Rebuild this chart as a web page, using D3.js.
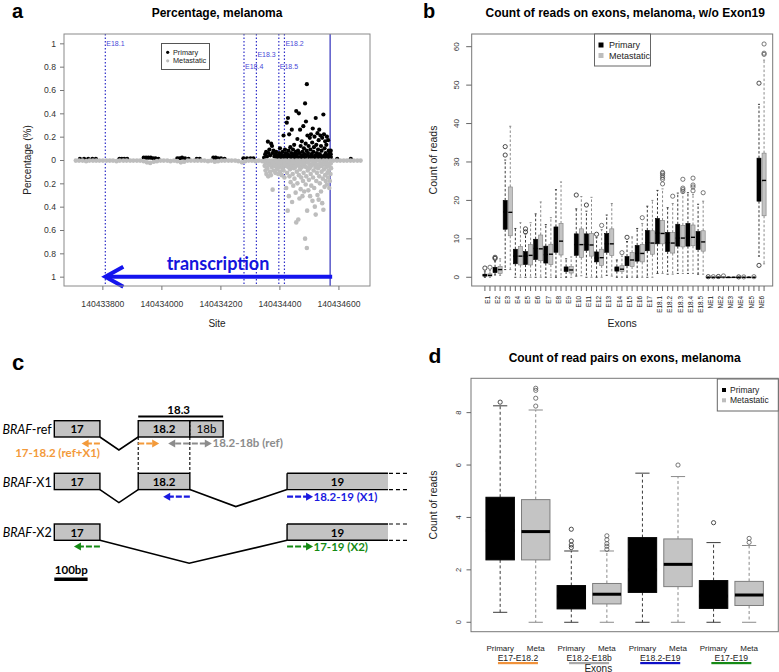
<!DOCTYPE html>
<html><head><meta charset="utf-8">
<script src="https://cdn.jsdelivr.net/npm/d3@7/dist/d3.min.js"></script>
<style>
body{margin:0;background:#fff}
svg{display:block}
</style>
</head><body>
<svg id="fig" width="779" height="672"></svg>
<script>
// ================= DATA =================
// Panel a: percentage by genomic site
const siteTicks = [140433800, 140434000, 140434200, 140434400, 140434600];
const pctTicks = [1, 0.8, 0.6, 0.4, 0.2, 0, -0.2, -0.4, -0.6, -0.8, -1];
const pctTickLabels = ["1","0.8","0.6","0.4","0.2","0","0.2","0.4","0.6","0.8","1"];
const exonMarks = [["E18.1",140433810],["E18.4",140434280],["E18.3",140434322],["E18.5",140434398],["E18.2",140434417]];
const transcriptionStart = 140434572;
const transcriptionEnd = 140433810;

const primaryPoints = [
[140433724,0.01],[140433738,0.01],[140433752,0.01],[140433766,0.01],[140433778,0.01],
[140433858,0.01],[140433866,0.01],[140433874,0.01],[140433884,0.01],
[140433940,0.02],[140433948,0.02],[140433956,0.02],[140433964,0.02],[140433972,0.015],[140433980,0.015],[140433990,0.01],
[140434054,0.015],[140434062,0.015],[140434070,0.02],[140434080,0.015],[140434092,0.01],
[140434120,0.01],[140434130,0.01],
[140434176,0.02],[140434184,0.02],[140434192,0.015],[140434202,0.015],[140434214,0.01],
[140434278,0.015],[140434290,0.015],[140434302,0.015],[140434312,0.015],
[140434596,0.01],[140434642,0.01],
[140434348,0.02],[140434352,0.05],[140434355,0.07],[140434358,0.03],[140434361,0.157],[140434363,0.06],[140434366,0.09],[140434369,0.04],
[140434372,0.14],[140434375,0.12],[140434377,0.06],[140434380,0.08],[140434383,0.03],[140434386,0.05],[140434389,0.07],[140434392,0.02],
[140434395,0.04],[140434399,0.06],[140434402,0.10],[140434405,0.05],[140434408,0.03],[140434411,0.07],[140434414,0.21],[140434416,0.04],
[140434419,0.09],[140434422,0.06],[140434425,0.32],[140434427,0.05],[140434429,0.36],[140434431,0.08],[140434433,0.22],[140434435,0.03],
[140434437,0.11],[140434440,0.06],[140434442,0.26],[140434444,0.04],[140434446,0.09],[140434448,0.05],[140434450,0.13],[140434452,0.03],
[140434455,0.07],[140434457,0.42],[140434459,0.05],[140434461,0.18],[140434463,0.08],[140434466,0.40],[140434468,0.06],[140434470,0.26],
[140434472,0.12],[140434474,0.04],[140434476,0.16],[140434478,0.07],[140434481,0.29],[140434483,0.10],[140434485,0.05],[140434487,0.485],
[140434489,0.14],[140434490,0.33],[140434492,0.08],[140434493,0.65],[140434495,0.21],[140434497,0.06],[140434499,0.12],[140434501,0.03],
[140434503,0.19],[140434505,0.09],[140434507,0.22],[140434509,0.05],[140434511,0.15],[140434513,0.27],[140434515,0.07],[140434517,0.11],
[140434519,0.20],[140434521,0.04],[140434523,0.36],[140434525,0.13],[140434527,0.06],[140434529,0.23],[140434531,0.09],[140434533,0.17],
[140434535,0.26],[140434537,0.05],[140434539,0.21],[140434541,0.12],[140434543,0.08],[140434545,0.19],[140434547,0.03],[140434549,0.39],
[140434551,0.22],[140434553,0.10],[140434555,0.16],[140434557,0.06],[140434559,0.13],[140434561,0.20],[140434563,0.04],[140434565,0.17],
[140434567,0.08],[140434569,0.05],[140434571,0.07],[140434573,0.03],
[140434404,0.02],[140434410,0.01],[140434418,0.03],[140434424,0.02],[140434432,0.04],[140434439,0.02],[140434447,0.03],[140434453,0.01],
[140434460,0.03],[140434467,0.02],[140434475,0.01],[140434482,0.03],[140434488,0.02],[140434496,0.04],[140434502,0.01],[140434508,0.03],
[140434516,0.02],[140434522,0.01],[140434528,0.04],[140434534,0.02],[140434540,0.03],[140434546,0.01],[140434552,0.04],[140434558,0.02],
[140434564,0.03],[140434570,0.01],[140434574,0.05],[140434574,0.08],[140434574,0.02]
];

// metastatic: magnitudes (plotted downward)
const metastaticPoints = [
[140433710,0.005],[140433721,0.005],[140433733,0.005],[140433745,0.01],[140433756,0.005],[140433768,0.005],[140433779,0.005],[140433790,0.005],
[140433802,0.005],[140433814,0.005],[140433825,0.005],[140433836,0.005],[140433848,0.01],[140433859,0.005],[140433871,0.005],[140433882,0.005],
[140433894,0.005],[140433905,0.005],[140433917,0.005],[140433928,0.005],[140433940,0.01],[140433951,0.02],[140433962,0.025],[140433974,0.015],
[140433985,0.01],[140433997,0.005],[140434008,0.005],[140434020,0.005],[140434031,0.01],[140434043,0.005],[140434054,0.01],[140434066,0.02],
[140434077,0.015],[140434089,0.005],[140434100,0.005],[140434112,0.005],[140434123,0.005],[140434135,0.005],[140434146,0.005],[140434158,0.01],
[140434169,0.005],[140434181,0.015],[140434192,0.01],[140434204,0.005],[140434215,0.005],[140434227,0.005],[140434238,0.005],[140434250,0.005],
[140434261,0.01],[140434273,0.02],[140434284,0.01],[140434296,0.005],[140434307,0.005],[140434319,0.01],[140434330,0.005],[140434342,0.01],
[140434353,0.005],[140434365,0.005],[140434376,0.005],[140434388,0.005],[140434399,0.005],[140434411,0.005],[140434422,0.005],[140434434,0.005],
[140434445,0.005],[140434457,0.005],[140434468,0.005],[140434480,0.005],[140434491,0.005],[140434503,0.005],[140434514,0.005],[140434526,0.005],
[140434537,0.005],[140434549,0.005],[140434560,0.005],[140434572,0.005],[140434583,0.005],[140434595,0.005],[140434606,0.005],[140434618,0.005],
[140434629,0.005],[140434641,0.005],[140434652,0.005],[140434664,0.005],[140434675,0.005],
[140434350,0.05],[140434353,0.09],[140434356,0.12],[140434359,0.07],[140434362,0.14],[140434365,0.04],[140434368,0.10],[140434371,0.13],
[140434374,0.06],[140434377,0.254],[140434380,0.09],[140434383,0.05],[140434386,0.11],[140434389,0.03],[140434392,0.08],[140434396,0.12],
[140434399,0.06],[140434402,0.10],[140434405,0.04],[140434408,0.13],[140434411,0.07],[140434414,0.09],[140434417,0.15],[140434420,0.05],
[140434423,0.24],[140434426,0.11],[140434428,0.434],[140434430,0.06],[140434432,0.31],[140434434,0.14],[140434436,0.08],[140434438,0.19],
[140434440,0.05],[140434443,0.36],[140434445,0.12],[140434447,0.22],[140434449,0.07],[140434451,0.16],[140434453,0.04],[140434455,0.28],
[140434457,0.535],[140434459,0.10],[140434461,0.20],[140434464,0.51],[140434466,0.13],[140434468,0.33],[140434470,0.08],[140434472,0.25],
[140434474,0.15],[140434476,0.06],[140434478,0.31],[140434480,0.18],[140434482,0.11],[140434484,0.27],[140434486,0.05],[140434487,0.674],
[140434489,0.21],[140434491,0.14],[140434493,0.754],[140434494,0.434],[140434496,0.09],[140434498,0.26],[140434500,0.17],[140434502,0.07],
[140434504,0.31],[140434506,0.12],[140434508,0.22],[140434510,0.04],[140434512,0.35],[140434514,0.15],[140434516,0.09],[140434518,0.24],
[140434520,0.40],[140434522,0.06],[140434523,0.468],[140434525,0.18],[140434527,0.11],[140434529,0.30],[140434531,0.07],[140434533,0.34],
[140434535,0.14],[140434537,0.20],[140434539,0.05],[140434541,0.27],[140434543,0.10],[140434545,0.37],[140434547,0.16],[140434549,0.426],
[140434551,0.08],[140434553,0.23],[140434555,0.13],[140434557,0.18],[140434559,0.06],[140434561,0.21],[140434563,0.11],[140434565,0.15],
[140434567,0.09],[140434569,0.24],[140434571,0.18],[140434573,0.12],[140434575,0.07],
[140434352,0.02],[140434358,0.03],[140434364,0.02],[140434370,0.04],[140434376,0.02],[140434382,0.03],[140434388,0.05],[140434394,0.02],
[140434400,0.03],[140434406,0.02],[140434412,0.04],[140434418,0.03],[140434424,0.05],[140434430,0.02],[140434436,0.03],[140434442,0.04],
[140434448,0.02],[140434454,0.06],[140434460,0.03],[140434466,0.05],[140434472,0.02],[140434478,0.04],[140434484,0.03],[140434490,0.06],
[140434496,0.02],[140434502,0.04],[140434508,0.05],[140434514,0.03],[140434520,0.02],[140434526,0.04],[140434532,0.06],[140434538,0.03],
[140434544,0.05],[140434550,0.02],[140434556,0.04],[140434562,0.03],[140434568,0.05],[140434574,0.03]
];

// Panel b: count of reads per exon (lo whisker, q1, median, q3, hi whisker)
const exonNames = ["E1","E2","E3","E4","E5","E6","E7","E8","E9","E10","E11","E12","E13","E14","E15","E16","E17",
  "E18.1","E18.2","E18.3","E18.4","E18.5","NE1","NE2","NE3","NE4","NE5","NE6"];
const exonPrimaryStats = [
[0,0.3,0.5,0.8,1.6],[0.6,1.2,2.0,2.6,4.2],[2.0,12.5,17.0,20.0,30.5],[0,3.5,5.5,7.3,12.7],[0,3.3,5.5,6.7,11.3],
[0,4.6,7.5,9.9,16.5],[0,3.7,5.9,8.1,13.7],[0,6.5,9.5,13.1,22.8],[0,1.5,2.0,2.7,4.8],[0.3,5.7,8.5,11.3,17.8],
[0,7.0,8.5,11.3,17.2],[0,4.0,5.0,6.6,10.3],[0.5,6.5,8.7,11.4,16.2],[0,1.6,2.2,2.7,4.5],[0,3.0,4.5,5.4,9.3],
[0,4.2,6.2,8.3,12.7],[0,6.9,9.0,12.2,18.5],[1.0,8.7,11.5,15.3,22.6],[0.8,6.7,9.0,11.7,18.1],[1.0,8.1,10.2,13.8,21.9],
[1.0,8.1,10.4,14.0,22.0],[0.8,7.2,9.2,11.9,19.0],[0,0,0,0,0],[0,0,0,0,0],[0,0,0,0,0],[0,0,0,0,0],[0,0,0,0,0],
[5.5,19.8,25.0,31.0,45.0]];
const exonMetaStats = [
[0,0.3,0.5,0.9,1.8],[0.5,1.0,2.0,2.8,4.8],[2.0,10.8,16.9,23.5,39.3],[0,3.2,5.5,8.0,14.2],[0,3.2,5.7,8.5,14.2],
[0,4.3,7.4,11.0,19.6],[0,3.3,6.0,8.6,15.5],[0,5.8,9.4,14.0,24.8],[0,1.1,1.9,2.8,5.3],[0.4,5.2,8.5,12.6,21.0],
[0,5.5,8.4,11.4,20.8],[0,3.1,5.1,7.3,12.4],[0.3,5.7,8.7,12.6,19.2],[0,1.5,2.1,3.0,5.5],[0,2.8,4.5,6.4,10.5],
[0,4.0,6.2,8.5,14.0],[0,6.0,8.9,12.1,20.0],[1.0,8.7,11.4,14.8,23.0],[0.8,6.3,8.9,11.6,19.2],[1.0,7.9,10.2,13.5,22.0],
[1.0,8.2,10.4,13.6,21.5],[0.8,6.8,9.2,12.1,19.8],[0,0,0,0,0],[0,0,0,0,0],[0,0,0,0,0],[0,0,0,0,0],[0,0,0,0,0],
[3.5,16.0,25.2,32.3,56.5]];
const exonPrimaryOut = [[2.4],[4.9,5.2],[31.8,34.0],[],[11.8,12.6],[],[],[],[],[21.4],[18.8],[11.2],[],[],[10.4],[],[],
  [],[],[],[],[],[0.15],[0.2],[],[0.1],[],[3.1,50.5]];
const exonMetaOut = [[2.6],[],[],[],[],[],[],[],[],[],[],[13.5],[],[6.4],[],[15.5],[],
  [24.3,25.5,26.0,26.5,27.0,27.3],[21.1],[22.3,22.8,23.2,25.5],[22.5,23.5,24.0,25.8],[22.0],[0.15],[0.35],[],[0.1],[0.15],[58.0,58.3,60.7]];
const readTicks = [0,10,20,30,40,50,60];

// Panel c: transcript structure (bp along schematic axis)
const isoforms = ["ref","X1","X2"];
const isoExons = {
  ref: [["17",0,137],["18.2",252,407],["18b",407,507]],
  X1:  [["17",0,137],["18.2",252,407],["19",699,1002]],
  X2:  [["17",0,137],["19",699,1002]]
};
const isoIntrons = {
  ref: [[137,194,252]],
  X1:  [[137,194,252],[407,545,699]],
  X2:  [[137,405,699]]
};
const exon183 = [252,507];
const scaleBarBp = 100;

// Panel d: read pairs on junctions
const junctionNames = ["E17-E18.2","E18.2-E18b","E18.2-E19","E17-E19"];
const groupNames = ["Primary","Meta"];
const pairPrimaryStats = [[0.38,2.38,3.5,4.77,8.26],[0,0.51,1.0,1.40,2.72],[0,1.14,2.0,3.23,5.69],[0,0.53,1.0,1.59,3.04]];
const pairMetaStats = [[0,2.38,3.46,4.68,8.1],[0,0.70,1.07,1.48,2.72],[0,1.36,2.21,3.18,5.56],[0,0.64,1.04,1.56,2.93]];
const pairPrimaryOut = [[8.4],[2.85,2.95,3.1,3.55],[],[3.8]];
const pairMetaOut = [[8.25,8.55,8.85,8.93],[2.78,2.9,3.0,3.15,3.3],[6.0],[3.05,3.2]];
const pairTicks = [0,2,4,6,8];

// ================= STYLE =================
const AR = '"Liberation Sans", Arial, Helvetica, sans-serif';
const CAL = 'Lato, "Open Sans", sans-serif';
const svg = d3.select("#fig");

function txt(g, x, y, s, o = {}) {
  const t = g.append("text").attr("x", x).attr("y", y).text(s)
    .attr("font-family", o.ff || AR).attr("font-size", o.fs || 10)
    .attr("fill", o.fill || "#111").attr("text-anchor", o.anchor || "start");
  if (o.fw) t.attr("font-weight", o.fw);
  if (o.fst) t.attr("font-style", o.fst);
  if (o.rot) t.attr("transform", `rotate(${o.rot},${x},${y})`);
  if (o.dy) t.attr("dy", o.dy);
  return t;
}

// ================= PANEL A =================
(function () {
  const g = svg.append("g");
  const L = 64, R = 370, T = 34, B = 286;
  const x = d3.scaleLinear().domain([140433670, 140434707]).range([L, R]);
  const y = d3.scaleLinear().domain([-1.08, 1.08]).range([B, T]);

  txt(g, 12, 18, "a", { fs: 20, fw: "bold", fill: "#000" });
  txt(g, (L + R) / 2, 17, "Percentage, melanoma", { fs: 12, fw: "bold", anchor: "middle", fill: "#000" });

  // exon boundary lines
  const labelLevel = { "E18.1": 1, "E18.4": 0.8, "E18.3": 0.9, "E18.5": 0.8, "E18.2": 1 };
  exonMarks.forEach(([name, s]) => {
    g.append("line").attr("x1", x(s)).attr("x2", x(s)).attr("y1", T).attr("y2", B)
      .attr("stroke", "#2f2fc8").attr("stroke-width", 1.2).attr("stroke-dasharray", "1.5,2");
    txt(g, x(s) + 1, y(labelLevel[name]), name, { fs: 7, fill: "#4a4ad8", dy: "0.35em" });
  });
  g.append("line").attr("x1", x(transcriptionStart)).attr("x2", x(transcriptionStart)).attr("y1", T).attr("y2", B)
    .attr("stroke", "#6262cc").attr("stroke-width", 1.6);

  // points: primary first, metastatic over it
  g.append("g").selectAll("circle").data(primaryPoints).join("circle")
    .attr("cx", d => x(d[0])).attr("cy", d => y(d[1])).attr("r", 2.1).attr("fill", "#000");
  g.append("g").selectAll("circle").data(metastaticPoints).join("circle")
    .attr("cx", d => x(d[0])).attr("cy", d => y(-d[1])).attr("r", 2.3).attr("fill", "#bdbdbd");

  // transcription arrow
  const ay = y(-1), x0 = x(transcriptionEnd) - 1, x1 = x(transcriptionStart) + 2;
  g.append("line").attr("x1", x0 + 2).attr("x2", x1).attr("y1", ay).attr("y2", ay)
    .attr("stroke", "#1414ee").attr("stroke-width", 4);
  g.append("path").attr("d", `M${x0 + 19},${ay - 10} L${x0 + 1},${ay} L${x0 + 19},${ay + 10}`)
    .attr("fill", "none").attr("stroke", "#1414ee").attr("stroke-width", 4).attr("stroke-linejoin", "miter");
  txt(g, 218, 270, "transcription", { ff: CAL, fs: 18, fw: "bold", fill: "#1414dd", anchor: "middle" });

  // frame
  g.append("rect").attr("x", L).attr("y", T).attr("width", R - L).attr("height", B - T)
    .attr("fill", "none").attr("stroke", "#8a8a8a");

  // axes
  const ya = g.append("g").attr("transform", `translate(${L},0)`)
    .call(d3.axisLeft(y).tickValues(pctTicks).tickSize(4).tickPadding(4).tickFormat((d, i) => pctTickLabels[i]));
  const xa = g.append("g").attr("transform", `translate(0,${B})`)
    .call(d3.axisBottom(x).tickValues(siteTicks).tickSize(4).tickPadding(11).tickFormat(d3.format("d")));
  [ya, xa].forEach(a => {
    a.select(".domain").remove();
    a.selectAll("line").attr("stroke", "#777");
    a.selectAll("text").attr("font-family", AR).attr("font-size", 8.6).attr("fill", "#333");
  });
  txt(g, (L + R) / 2, 327, "Site", { fs: 10, anchor: "middle", fill: "#222" });
  txt(g, 31, (T + B) / 2, "Percentage (%)", { fs: 10, anchor: "middle", fill: "#222", rot: -90 });

  // legend
  const lg = g.append("g");
  lg.append("rect").attr("x", 161.5).attr("y", 43.5).attr("width", 48).attr("height", 26)
    .attr("fill", "#fff").attr("stroke", "#555");
  [["Primary", "#000", 52.3], ["Metastatic", "#bdbdbd", 60.8]].forEach(([n, c, yy]) => {
    lg.append("circle").attr("cx", 167.7).attr("cy", yy).attr("r", 1.6).attr("fill", c);
    txt(lg, 173, yy, n, { fs: 7.3, dy: "0.35em", fill: "#222" });
  });
})();

// ================= BOX PLOT HELPER =================
function drawBox(g, x, y, pos, st, outs, primary, o) {
  const [lo, q1, med, q3, hi] = st;
  const cx = x(pos);
  const bx0 = x(pos - o.bw / 2), bx1 = x(pos + o.bw / 2);
  const cx0 = x(pos - o.cw / 2), cx1 = x(pos + o.cw / 2);
  const wcol = primary ? "#3a3a3a" : "#8a8a8a";
  const fill = primary ? "#000" : "#c4c4c4";
  const stroke = primary ? "#000" : "#7d7d7d";
  g.append("line").attr("x1", cx).attr("x2", cx).attr("y1", y(q3)).attr("y2", y(hi))
    .attr("stroke", wcol).attr("stroke-dasharray", o.dash).attr("stroke-width", 1);
  g.append("line").attr("x1", cx).attr("x2", cx).attr("y1", y(q1)).attr("y2", y(lo))
    .attr("stroke", wcol).attr("stroke-dasharray", o.dash).attr("stroke-width", 1);
  [lo, hi].forEach(v => g.append("line").attr("x1", cx0).attr("x2", cx1).attr("y1", y(v)).attr("y2", y(v))
    .attr("stroke", wcol).attr("stroke-width", 1));
  g.append("rect").attr("x", bx0).attr("y", y(q3)).attr("width", bx1 - bx0)
    .attr("height", Math.max(y(q1) - y(q3), 0.6)).attr("fill", fill).attr("stroke", stroke).attr("stroke-width", o.bsw);
  g.append("line").attr("x1", bx0).attr("x2", bx1).attr("y1", y(med)).attr("y2", y(med))
    .attr("stroke", "#000").attr("stroke-width", o.mw);
  outs.forEach(v => g.append("circle").attr("cx", cx).attr("cy", y(v)).attr("r", o.or)
    .attr("fill", "none").attr("stroke", primary ? "#222" : "#555").attr("stroke-width", 0.8));
}

// ================= PANEL B =================
(function () {
  const g = svg.append("g");
  const L = 471.7, R = 772.7, T = 34, B = 286;
  const x = d3.scaleLinear().domain([-1.6, 57.7]).range([L, R]);
  const y = d3.scaleLinear().domain([-2.27, 63.3]).range([B, T]);

  txt(g, 423, 18, "b", { fs: 20, fw: "bold", fill: "#000" });
  txt(g, (L + R) / 2 + 3, 17, "Count of reads on exons, melanoma, w/o Exon19", { fs: 12, fw: "bold", anchor: "middle", fill: "#000" });

  const opt = { bw: 0.8, cw: 0.4, dash: "2.5,2", bsw: 0.6, mw: 1.4, or: 2.1 };
  exonNames.forEach((n, i) => {
    drawBox(g, x, y, 2 * i + 1, exonPrimaryStats[i], exonPrimaryOut[i], true, opt);
    drawBox(g, x, y, 2 * i + 2, exonMetaStats[i], exonMetaOut[i], false, opt);
  });

  g.append("rect").attr("x", L).attr("y", T).attr("width", R - L).attr("height", B - T)
    .attr("fill", "none").attr("stroke", "#777");

  // y axis
  readTicks.forEach(v => {
    g.append("line").attr("x1", L - 5.5).attr("x2", L).attr("y1", y(v)).attr("y2", y(v)).attr("stroke", "#666");
    txt(g, 459, y(v), String(v), { fs: 8, anchor: "middle", rot: -90, fill: "#333" });
  });
  // x axis
  d3.range(1, 57).forEach(p => {
    g.append("line").attr("x1", x(p)).attr("x2", x(p)).attr("y1", B).attr("y2", B + 5).attr("stroke", "#666");
  });
  exonNames.forEach((n, i) => {
    txt(g, x(2 * i + 1.5), 296, n, { fs: 6.4, anchor: "end", rot: -90, fill: "#222", dy: "0.35em" });
  });
  txt(g, (L + R) / 2, 327, "Exons", { fs: 10.5, anchor: "middle", fill: "#222" });
  txt(g, 437, (T + B) / 2, "Count of reads", { fs: 10.5, anchor: "middle", fill: "#222", rot: -90 });

  // legend
  g.append("rect").attr("x", 594.5).attr("y", 34).attr("width", 56).attr("height", 32)
    .attr("fill", "#fff").attr("stroke", "#666");
  [["Primary", "#000", 45], ["Metastatic", "#bdbdbd", 55.5]].forEach(([n, c, yy]) => {
    g.append("rect").attr("x", 598.5).attr("y", yy - 2.5).attr("width", 5).attr("height", 5).attr("fill", c);
    txt(g, 609, yy, n, { fs: 9, dy: "0.35em", fill: "#222" });
  });
})();

// ================= PANEL C =================
(function () {
  const g = svg.append("g");
  const x = d3.scaleLinear().domain([0, 100]).range([54.3, 87.6]);
  const rowTop = { ref: 420.7, X1: 473.3, X2: 524 };
  const H = 16.3;
  const depth = { ref: [13], X1: [13, 17], X2: [23] };

  txt(g, 12, 370, "c", { fs: 22, fw: "bold", fill: "#000" });

  // 18.3 bar
  g.append("line").attr("x1", x(exon183[0])).attr("x2", x(exon183[1])).attr("y1", 416.5).attr("y2", 416.5)
    .attr("stroke", "#000").attr("stroke-width", 2);
  txt(g, x((exon183[0] + exon183[1]) / 2) - 2, 413.5, "18.3", { ff: CAL, fs: 11.5, fw: "bold", anchor: "middle", fill: "#000" });

  isoforms.forEach(iso => {
    const t = rowTop[iso];
    isoIntrons[iso].forEach((d, k) => {
      g.append("path").attr("d", `M${x(d[0])},${t + H} L${x(d[1])},${t + H + depth[iso][k]} L${x(d[2])},${t + H}`)
        .attr("fill", "none").attr("stroke", "#000").attr("stroke-width", 1.6);
    });
    isoExons[iso].forEach(([n, s, e]) => {
      const open = n === "19";
      g.append("rect").attr("x", x(s)).attr("y", t).attr("width", x(e) - x(s)).attr("height", H)
        .attr("fill", "#c3c3c3").attr("stroke", open ? "none" : "#000").attr("stroke-width", 1.4);
      if (open) {
        [t, t + H].forEach(yy => {
          g.append("line").attr("x1", x(s)).attr("x2", x(e)).attr("y1", yy).attr("y2", yy).attr("stroke", "#000").attr("stroke-width", 1.4);
          g.append("line").attr("x1", x(e) + 1).attr("x2", x(e) + 21).attr("y1", yy).attr("y2", yy)
            .attr("stroke", "#000").attr("stroke-width", 1.2).attr("stroke-dasharray", "4,3");
        });
        g.append("line").attr("x1", x(s)).attr("x2", x(s)).attr("y1", t).attr("y2", t + H).attr("stroke", "#000").attr("stroke-width", 1.4);
      }
      if (n === "18b") {
        g.append("line").attr("x1", x(s)).attr("x2", x(s)).attr("y1", t).attr("y2", t + H)
          .attr("stroke", "#000").attr("stroke-dasharray", "2.5,1.5").attr("stroke-width", 1.1);
      }
      txt(g, x((s + e) / 2), t + 12.6, n, { ff: CAL, fs: 11.5, fw: n === "18b" ? "normal" : "bold", anchor: "middle", fill: "#000" });
    });
    const lab = g.append("text").attr("x", 51.7).attr("y", t + 13.3).attr("text-anchor", "end")
      .attr("font-family", CAL).attr("font-size", 12.5).attr("fill", "#000");
    lab.append("tspan").attr("font-style", "italic").text("BRAF");
    lab.append("tspan").text("-" + iso);
  });
  [252, 407].forEach(b => {
    g.append("line").attr("x1", x(b)).attr("x2", x(b)).attr("y1", rowTop.ref + H).attr("y2", rowTop.X1)
      .attr("stroke", "#000").attr("stroke-dasharray", "3,2").attr("stroke-width", 1.1);
  });

  function primer(b0, b1, yy, col) {
    const x0 = x(b0), x1 = x(b1), dir = Math.sign(x1 - x0);
    g.append("line").attr("x1", x0).attr("x2", x1 - dir * 5).attr("y1", yy).attr("y2", yy)
      .attr("stroke", col).attr("stroke-width", 2.2).attr("stroke-dasharray", "6,2");
    g.append("path").attr("d", `M${x1},${yy} L${x1 - dir * 7},${yy - 4} L${x1 - dir * 7},${yy + 4}Z`).attr("fill", col);
  }
  const OR = "#f39a3a", GR = "#8c8c8c", BL = "#1a1ae0", GN = "#148a14";
  primer(137, 82, 443.5, OR);
  primer(252, 315, 443.5, OR);
  primer(405, 342, 443.5, GR);
  primer(413, 473, 443.5, GR);
  txt(g, 100, 456.5, "17-18.2 (ref+X1)", { ff: CAL, fs: 11.5, fw: "bold", anchor: "end", fill: OR });
  txt(g, 212.5, 447.3, "18.2-18b (ref)", { ff: CAL, fs: 11.5, fw: "bold", fill: GR });
  primer(407, 327, 496.7, BL);
  primer(699, 777, 496.7, BL);
  txt(g, 313.5, 500.5, "18.2-19 (X1)", { ff: CAL, fs: 11.5, fw: "bold", fill: BL });
  primer(137, 59, 546.5, GN);
  primer(699, 777, 546.5, GN);
  txt(g, 313.5, 550.5, "17-19 (X2)", { ff: CAL, fs: 11.5, fw: "bold", fill: GN });

  txt(g, x(0) + 0.5, 574, "100bp", { ff: CAL, fs: 11.5, fw: "bold", fill: "#000" });
  g.append("rect").attr("x", x(0)).attr("y", 577.5).attr("width", x(scaleBarBp) - x(0)).attr("height", 3.5).attr("fill", "#000");
})();

// ================= PANEL D =================
(function () {
  const g = svg.append("g");
  const L = 471, R = 778.3, T = 378.3, B = 631.7;
  const x = d3.scaleLinear().domain([0.18, 8.82]).range([L, R]);
  const y = d3.scaleLinear().domain([-0.36, 9.31]).range([B, T]);

  txt(g, 428.5, 363, "d", { fs: 21, fw: "bold", fill: "#000" });
  txt(g, (L + R) / 2, 362, "Count of read pairs on exons, melanoma", { fs: 12, fw: "bold", anchor: "middle", fill: "#000" });

  const opt = { bw: 0.8, cw: 0.4, dash: "3,2.5", bsw: 1, mw: 3, or: 2.1 };
  junctionNames.forEach((n, i) => {
    drawBox(g, x, y, 2 * i + 1, pairPrimaryStats[i], pairPrimaryOut[i], true, opt);
    drawBox(g, x, y, 2 * i + 2, pairMetaStats[i], pairMetaOut[i], false, opt);
  });

  g.append("rect").attr("x", L).attr("y", T).attr("width", R - L).attr("height", B - T)
    .attr("fill", "none").attr("stroke", "#777");

  pairTicks.forEach(v => {
    g.append("line").attr("x1", L - 4.5).attr("x2", L).attr("y1", y(v)).attr("y2", y(v)).attr("stroke", "#666");
    txt(g, 461, y(v), String(v), { fs: 7.5, anchor: "middle", rot: -90, fill: "#333" });
  });
  const underline = ["#f0913a", "#a8a8a8", "#1010c8", "#158a15"];
  junctionNames.forEach((n, i) => {
    groupNames.forEach((gn, k) => txt(g, x(2 * i + 1 + k), 650.5, gn, { fs: 8, anchor: "middle", fill: "#222" }));
    const cx = x(2 * i + 1.5);
    txt(g, cx, 660.5, n, { fs: 8.6, anchor: "middle", fill: "#222" });
    g.append("rect").attr("x", cx - 20).attr("y", 662).attr("width", 40).attr("height", 2.2).attr("fill", underline[i]);
  });
  txt(g, 598.3, 671.5, "Exons", { fs: 10, anchor: "middle", fill: "#222" });
  txt(g, 436.5, 505, "Count of reads", { fs: 10.5, anchor: "middle", fill: "#222", rot: -90 });

  g.append("rect").attr("x", 717.3).attr("y", 379).attr("width", 61).attr("height", 32)
    .attr("fill", "#fff").attr("stroke", "#666");
  [["Primary", "#000", 390], ["Metastatic", "#bdbdbd", 400.3]].forEach(([n, c, yy]) => {
    g.append("rect").attr("x", 722).attr("y", yy - 2).attr("width", 4).attr("height", 4).attr("fill", c);
    txt(g, 730, yy, n, { fs: 8.5, dy: "0.35em", fill: "#222" });
  });
})();
</script>
</body></html>
